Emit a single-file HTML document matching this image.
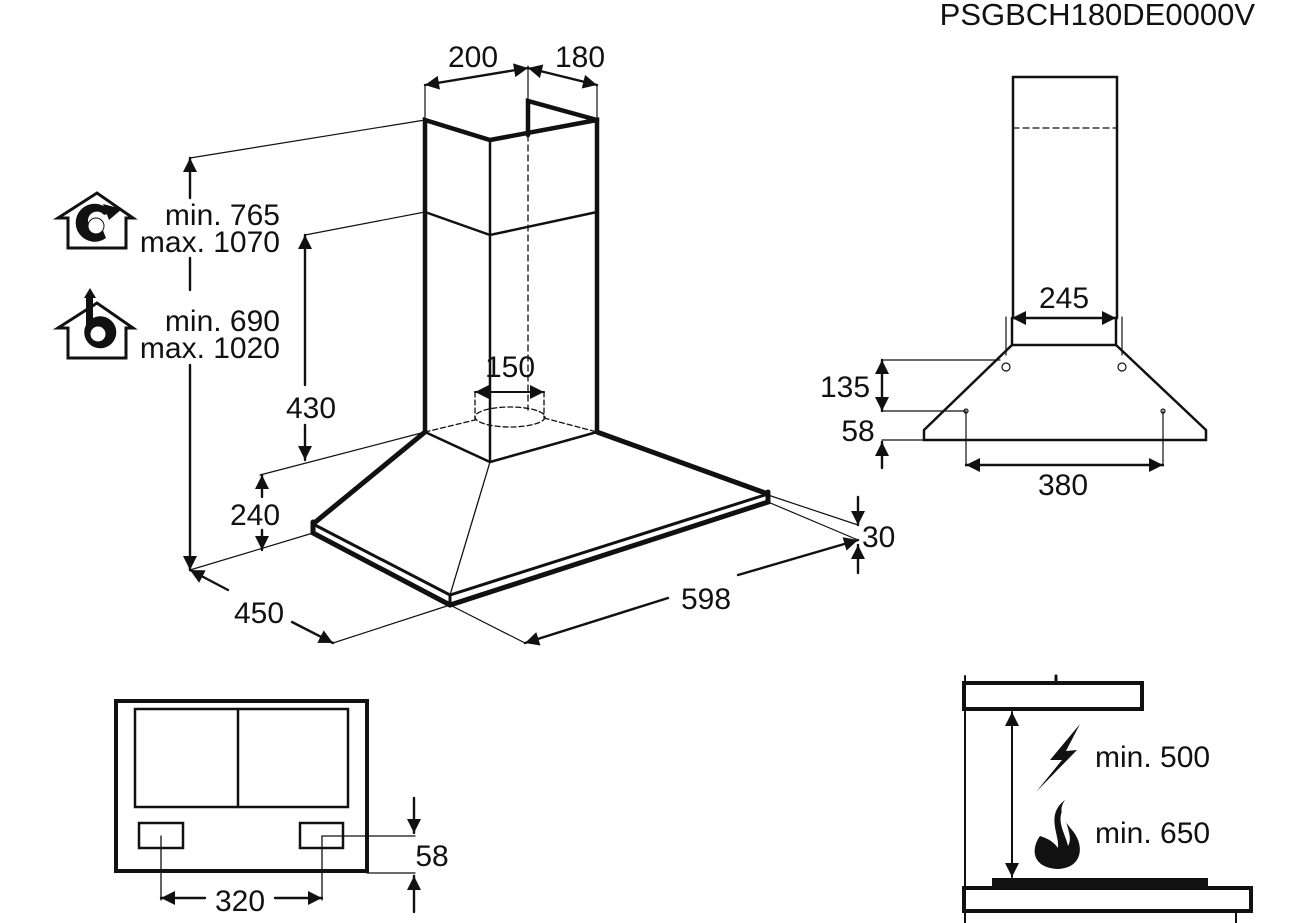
<!DOCTYPE html>
<html><head><meta charset="utf-8"><style>
html,body{margin:0;padding:0;background:#fff}
svg{display:block}
text{font-family:"Liberation Sans",sans-serif;fill:#111}
</style></head><body>
<svg width="1316" height="923" viewBox="0 0 1316 923" xmlns="http://www.w3.org/2000/svg">
<defs>
<marker id="b" viewBox="0 0 10 10" refX="10" refY="5" markerWidth="26" markerHeight="14" markerUnits="userSpaceOnUse" orient="auto-start-reverse"><path d="M0,0 L10,5 L0,10 z" fill="#111"/></marker>
</defs>
<g stroke="#111" fill="none" stroke-linecap="round">
<g stroke-width="4.5">
<polyline points="425,432 425,120 490,140 597,120 597,432"/>
<polyline points="528,135 528,101 597,120"/>
</g>
<g stroke-width="2.5">
<line x1="490" y1="140" x2="490" y2="462"/>
<polyline points="425,212 490,235 597,212"/>
<polyline points="425,432 490,462 597,432"/>
</g>
<line x1="528" y1="135" x2="528" y2="410" stroke-width="1.3" stroke-dasharray="6,4"/>
<g stroke-width="1.3" stroke-dasharray="5,3">
<line x1="425" y1="432" x2="475" y2="420"/>
<line x1="544" y1="418" x2="597" y2="432"/>
<ellipse cx="510" cy="417" rx="35" ry="10"/>
<line x1="475" y1="392" x2="475" y2="420"/>
<line x1="544" y1="392" x2="544" y2="418"/>
</g>
<line x1="475" y1="392" x2="544" y2="392" stroke-width="2" marker-start="url(#b)" marker-end="url(#b)"/>
<g stroke-width="5">
<line x1="425" y1="432" x2="313" y2="524"/>
<line x1="597" y1="432" x2="768" y2="494"/>
<polyline points="313,522 313,533 450,605 768,502 768,492"/>
</g>
<g stroke-width="3">
<polyline points="313,524 450,595 768,494"/>
<line x1="450" y1="595" x2="450" y2="605"/>
</g>
<line x1="490" y1="462" x2="450" y2="595" stroke-width="1.3"/>
<g stroke-width="1.2">
<line x1="425" y1="120" x2="190" y2="158"/>
<line x1="425" y1="212" x2="305" y2="235"/>
<line x1="425" y1="432" x2="260" y2="475"/>
<line x1="313" y1="533" x2="190" y2="570"/>
<line x1="450" y1="605" x2="333" y2="643"/>
<line x1="450" y1="605" x2="525" y2="643"/>
<line x1="768" y1="502" x2="858" y2="540"/>
<line x1="768" y1="495" x2="858" y2="525"/>
<line x1="425" y1="85" x2="425" y2="120"/>
<line x1="528" y1="66" x2="528" y2="101"/>
<line x1="597" y1="85" x2="597" y2="120"/>
</g>
<g stroke-width="2.4">
<line x1="425" y1="85" x2="528" y2="68" marker-start="url(#b)" marker-end="url(#b)"/>
<line x1="528" y1="68" x2="597" y2="85" marker-start="url(#b)" marker-end="url(#b)"/>
<line x1="190" y1="158" x2="190" y2="198" marker-start="url(#b)"/>
<line x1="190" y1="258" x2="190" y2="290"/>
<line x1="190" y1="365" x2="190" y2="570" marker-end="url(#b)"/>
<line x1="305" y1="235" x2="305" y2="385" marker-start="url(#b)"/>
<line x1="305" y1="425" x2="305" y2="460" marker-end="url(#b)"/>
<line x1="262" y1="475" x2="262" y2="497" marker-start="url(#b)"/>
<line x1="262" y1="530" x2="262" y2="550" marker-end="url(#b)"/>
<line x1="190" y1="570" x2="228" y2="590" marker-start="url(#b)"/>
<line x1="292" y1="622" x2="333" y2="643" marker-end="url(#b)"/>
<line x1="525" y1="643" x2="668" y2="598" marker-start="url(#b)"/>
<line x1="738" y1="575" x2="858" y2="540" marker-end="url(#b)"/>
<line x1="858" y1="497" x2="858" y2="525" marker-end="url(#b)"/>
<line x1="858" y1="573" x2="858" y2="545" marker-end="url(#b)"/>
</g>
<g stroke-width="2.5">
<polyline points="1013,318 1013,77 1117,77 1117,318"/>
<polyline points="1012,318 1012,345 1116,345 1116,318"/>
<polyline points="1012,345 924,430 924,440 1206,440 1206,430 1116,345"/>
</g>
<line x1="1013" y1="128" x2="1117" y2="128" stroke-width="1.3" stroke-dasharray="6,4"/>
<g stroke-width="1.2">
<line x1="1006" y1="317" x2="1006" y2="355"/>
<line x1="1122" y1="317" x2="1122" y2="355"/>
<line x1="882" y1="360" x2="1000" y2="360"/>
<line x1="882" y1="411" x2="966" y2="411"/>
<line x1="882" y1="440" x2="924" y2="440"/>
<line x1="966" y1="411" x2="966" y2="466"/>
<line x1="1163" y1="411" x2="1163" y2="466"/>
<circle cx="1006" cy="367" r="4"/><circle cx="1122" cy="367" r="4"/>
<circle cx="966" cy="411" r="2"/><circle cx="1163" cy="411" r="2"/>
</g>
<g stroke-width="2.4">
<line x1="1012" y1="318" x2="1116" y2="318" marker-start="url(#b)" marker-end="url(#b)"/>
<line x1="882" y1="360" x2="882" y2="411" marker-start="url(#b)" marker-end="url(#b)"/>
<line x1="882" y1="468" x2="882" y2="442" marker-end="url(#b)"/>
<line x1="966" y1="465" x2="1163" y2="465" marker-start="url(#b)" marker-end="url(#b)"/>
</g>
<rect x="116" y="701" width="251" height="170" stroke-width="4"/>
<rect x="135" y="709" width="213" height="98" stroke-width="2.5"/>
<line x1="238" y1="709" x2="238" y2="807" stroke-width="2.5"/>
<rect x="139" y="823" width="44" height="25" stroke-width="2.5"/>
<rect x="300" y="823" width="43" height="25" stroke-width="2.5"/>
<g stroke-width="1.3">
<polyline points="161,836 161,900"/>
<polyline points="322,900 322,836 415,836"/>
<line x1="367" y1="873" x2="415" y2="873"/>
</g>
<g stroke-width="2.4">
<line x1="161" y1="898" x2="205" y2="898" marker-start="url(#b)"/>
<line x1="275" y1="898" x2="322" y2="898" marker-end="url(#b)"/>
<line x1="414" y1="798" x2="414" y2="833" marker-end="url(#b)"/>
<line x1="414" y1="912" x2="414" y2="876" marker-end="url(#b)"/>
</g>
<rect x="964" y="683" width="178" height="26" stroke-width="4"/>
<line x1="965" y1="676" x2="965" y2="923" stroke-width="2"/>
<line x1="1056" y1="676" x2="1056" y2="683" stroke-width="3"/>
<line x1="1012" y1="712" x2="1012" y2="877" stroke-width="2" marker-start="url(#b)" marker-end="url(#b)"/>
<rect x="964" y="888" width="287" height="23" stroke-width="4"/>
<line x1="1236" y1="911" x2="1236" y2="923" stroke-width="2"/>
</g>
<rect x="992" y="878" width="216" height="10" fill="#111"/>
<path d="M1080,724 L1050,760 L1062,760 L1036,792 L1077,750 L1066,751 Z" fill="#111"/>
<path d="M1065,800 C1045,815 1060,835 1058,848 C1052,840 1046,838 1040,836 C1030,850 1033,868 1058,869 C1083,868 1085,845 1072,830 C1062,818 1058,810 1065,800 Z" fill="#111"/>
<path d="M1064,808 C1055,820 1066,835 1068,846 C1074,836 1064,824 1064,808 Z" fill="#fff"/>
<g stroke="#111" stroke-width="3" fill="none">
<path d="M58,218 L97,193 L133,218 L126,218 L126,248 L68,248 L68,218 Z"/>
<path d="M58,328 L97,303 L133,328 L126,328 L126,358 L68,358 L68,328 Z"/>
</g>
<path d="M111,213 A19,19 0 1 0 106,238 L102,228 A9,9 0 1 1 104,215 Z" fill="#111"/>
<path d="M103,204 L122,209 L109,220 Z" fill="#111"/>
<circle cx="96" cy="226" r="8" fill="#fff" stroke="#111" stroke-width="1"/>
<path d="M84,298 L90,288 L96,298 L93,298 L93,318 A16,16 0 1 1 86,325 L86,298 Z" fill="#111"/>
<circle cx="98" cy="334" r="8" fill="#fff" stroke="#111" stroke-width="1"/>
<g font-family="Liberation Sans, sans-serif" font-size="30" fill="#111" stroke="none">
<text x="1255" y="25" text-anchor="end" font-size="31">PSGBCH180DE0000V</text>
<text x="473" y="67" text-anchor="middle">200</text>
<text x="580" y="67" text-anchor="middle">180</text>
<text x="510" y="377" text-anchor="middle">150</text>
<text x="280" y="225" text-anchor="end">min. 765</text>
<text x="280" y="252" text-anchor="end">max. 1070</text>
<text x="280" y="331" text-anchor="end">min. 690</text>
<text x="280" y="358" text-anchor="end">max. 1020</text>
<text x="311" y="418" text-anchor="middle">430</text>
<text x="255" y="525" text-anchor="middle">240</text>
<text x="259" y="623" text-anchor="middle">450</text>
<text x="706" y="609" text-anchor="middle">598</text>
<text x="862" y="547">30</text>
<text x="1064" y="308" text-anchor="middle">245</text>
<text x="845" y="397" text-anchor="middle">135</text>
<text x="858" y="441" text-anchor="middle">58</text>
<text x="1063" y="495" text-anchor="middle">380</text>
<text x="240" y="911" text-anchor="middle">320</text>
<text x="432" y="866" text-anchor="middle">58</text>
<text x="1095" y="767">min. 500</text>
<text x="1095" y="843">min. 650</text>
</g>
</svg>
</body></html>
